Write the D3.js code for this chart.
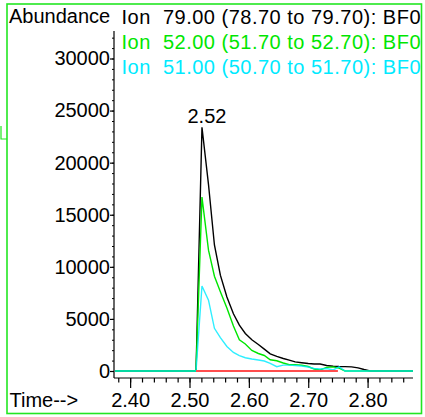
<!DOCTYPE html>
<html>
<head>
<meta charset="utf-8">
<script src="https://cdn.jsdelivr.net/npm/d3@7"></script>
<style>
  body { margin: 0; background: #fff; }
  svg text { font-family: "Liberation Sans", Arial, sans-serif; font-size: 20px; }
</style>
</head>
<body>
<div id="chart"></div>
<script>
// Scan times (min)
const times = [2.3745, 2.500, 2.511, 2.521, 2.532, 2.542, 2.552, 2.563, 2.574, 2.584, 2.594, 2.605,
  2.616, 2.626, 2.636, 2.647, 2.658, 2.668, 2.678, 2.689, 2.700, 2.710, 2.720, 2.731,
  2.742, 2.752, 2.762, 2.773, 2.784, 2.794, 2.804, 2.8765];

// Abundance per ion
const ion79 = [0, 0, 0, 23400, 17900, 12100, 9200, 7100, 5500, 4400, 3600, 3000,
  2550, 2100, 1650, 1400, 1200, 1050, 870, 790, 720, 670, 670, 530,
  460, 430, 420, 400, 300, 140, 0, 0];
const ion52 = [0, 0, 0, 16700, 11600, 9100, 7600, 6050, 4320, 3000, 2590, 1970,
  1680, 1490, 1080, 980, 770, 600, 610, 550, 430, 190, 100, 350,
  400, 280, 0, 0, 0, 0, 0, 0];
const ion51 = [0, 0, 0, 8160, 6800, 4100, 3200, 2350, 1780, 1480, 1270, 1150,
  1060, 960, 740, 410, 560, 560, 530, 480, 380, 240, 190, 240,
  100, 400, 0, 0, 0, 0, 0, 0];

// integration baseline (start, end)
const baseline = [2.511, 2.750];
const peakLabel = { time: 2.521, value: 23400, text: "2.52" };

const legend = [
  "Ion  79.00 (78.70 to 79.70): BF0",
  "Ion  52.00 (51.70 to 52.70): BF0",
  "Ion  51.00 (50.70 to 51.70): BF0"
];
const colors = ["#000000", "#00e600", "#00eaff"];

const yMajor = [0, 5000, 10000, 15000, 20000, 25000, 30000];
const xMajor = [2.40, 2.50, 2.60, 2.70, 2.80];

const width = 425, height = 417;

const svg = d3.select("#chart").append("svg")
  .attr("width", width).attr("height", height);

// frame
svg.append("rect")
  .attr("x", 7).attr("y", 4).attr("width", 414.5).attr("height", 409.5)
  .attr("fill", "none").attr("stroke", "#22e622").attr("stroke-width", 1.6);
svg.append("path")
  .attr("d", "M1,126V139H7")
  .attr("fill", "none").attr("stroke", "#22e622").attr("stroke-width", 1.2);

const x = d3.scaleLinear().domain([2.3745, 2.8765]).range([115, 413]);
const y = d3.scaleLinear().domain([0, 30000]).range([371, 58.5]);

// axes
const axisY = 114, axisX = 378;
svg.append("line")
  .attr("x1", axisY).attr("x2", axisY).attr("y1", 31).attr("y2", axisX)
  .attr("stroke", "#000").attr("stroke-width", 1.2);
svg.append("line")
  .attr("x1", axisY).attr("x2", 413).attr("y1", axisX).attr("y2", axisX)
  .attr("stroke", "#000").attr("stroke-width", 1.2);

svg.append("g")
  .attr("transform", `translate(${axisY},0)`)
  .call(d3.axisLeft(y).tickValues(yMajor).tickSize(4).tickPadding(0).tickSizeOuter(0).tickFormat(d3.format("d")))
  .call(g => g.select(".domain").remove())
  .call(g => g.selectAll("text").attr("font-size", 20).attr("fill", "#000").attr("font-family", null))
  .call(g => g.selectAll("line").attr("stroke-width", 1.2));

svg.append("g")
  .attr("transform", `translate(${axisY},0)`)
  .call(d3.axisLeft(y).tickValues(d3.range(1000, 32001, 1000)).tickSize(2).tickFormat(""))
  .call(g => g.select(".domain").remove());

svg.append("g")
  .attr("transform", `translate(0,${axisX})`)
  .call(d3.axisBottom(x).tickValues(xMajor).tickSize(10).tickPadding(5).tickSizeOuter(0).tickFormat(d3.format(".2f")))
  .call(g => g.select(".domain").remove())
  .call(g => g.selectAll("text").attr("font-size", 20).attr("fill", "#000").attr("font-family", null))
  .call(g => g.selectAll("line").attr("stroke-width", 1.2));

svg.append("g")
  .attr("transform", `translate(0,${axisX})`)
  .call(d3.axisBottom(x).tickValues(d3.range(2.38, 2.87, 0.02)).tickSize(4.5).tickFormat(""))
  .call(g => g.select(".domain").remove())
  .call(g => g.selectAll("line").attr("stroke-width", 1.2));

// traces
const line = d3.line().x(d => x(d[0])).y(d => y(d[1]));
[ion79, ion52, ion51].forEach((vals, i) => {
  svg.append("path")
    .datum(times.map((t, j) => [t, vals[j]]))
    .attr("fill", "none")
    .attr("stroke", colors[i])
    .attr("stroke-opacity", i === 2 ? 0.82 : 1)
    .attr("stroke-width", 1.4)
    .attr("d", line);
});

// integration baseline
svg.append("line")
  .attr("x1", x(baseline[0])).attr("x2", x(baseline[1]))
  .attr("y1", y(0)).attr("y2", y(0))
  .attr("stroke", "#ff4d4d").attr("stroke-width", 2);

// peak label
svg.append("text")
  .attr("x", x(peakLabel.time) + 5)
  .attr("y", y(peakLabel.value) - 4)
  .attr("text-anchor", "middle")
  .text(peakLabel.text);

// titles
svg.append("text").attr("x", 9).attr("y", 23).text("Abundance");
legend.forEach((t, i) => {
  svg.append("text")
    .attr("x", 121.5).attr("y", 24 + i * 25)
    .attr("fill", colors[i])
    .attr("textLength", 299).attr("lengthAdjust", "spacing")
    .style("white-space", "pre")
    .text(t);
});
svg.append("text").attr("x", 9.5).attr("y", 407).text("Time-->");
</script>
</body>
</html>
